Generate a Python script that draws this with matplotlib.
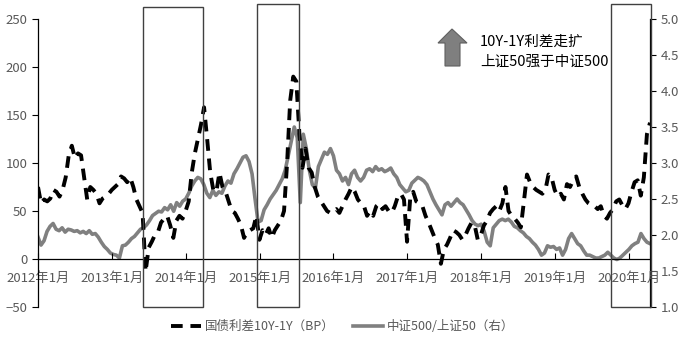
import matplotlib
matplotlib.use("Agg")
import matplotlib.pyplot as plt
import matplotlib.dates as mdates
from matplotlib.patches import Rectangle, Polygon
import pandas as pd

plt.rcParams['font.family'] = ['Noto Sans CJK SC', 'DejaVu Sans']

# 国债利差10Y-1Y (BP), roughly semi-monthly, 2012-01 .. 2020-04
spread_bp = [
    75, 58, 62, 60, 63, 72, 70, 65, 72, 85, 108, 118, 105, 110, 108, 85, 62, 75, 72, 68, 58, 63, 65, 68,
    72, 75, 78, 86, 84, 80, 85, 75, 62, 55, 48, -13, 12, 18, 25, 28, 38, 42, 45, 35, 22, 40, 45, 42,
    50, 60, 90, 110, 125, 140, 158, 125, 90, 72, 70, 90, 75, 70, 60, 50, 48, 42, 35, 22, 28, 30, 32, 45,
    20, 30, 25, 32, 22, 30, 35, 40, 50, 100, 165, 190, 185, 130, 95, 115, 95, 90, 75, 65, 60, 55, 50, 48,
    50, 52, 48, 55, 62, 68, 75, 70, 62, 58, 55, 45, 50, 45, 55, 58, 52, 55, 50, 48, 55, 65, 68, 62,
    18, 62, 70, 60, 58, 55, 45, 38, 30, 22, 15, -5, 10, 15, 22, 30, 28, 25, 20, 25, 32, 38, 35, 20,
    25, 35, 40, 48, 52, 55, 50, 58, 75, 50, 45, 42, 38, 33, 60, 88, 80, 75, 72, 70, 68, 72, 88, 85,
    72, 65, 68, 62, 78, 75, 82, 86, 75, 68, 62, 58, 56, 55, 52, 55, 45, 42, 48, 52, 60, 62, 56, 52,
    58, 70, 80, 82, 66, 85, 130, 142,
]

# 中证500/上证50 (右轴)
ratio = [
    1.97, 1.86, 1.92, 2.05, 2.12, 2.16, 2.08, 2.06, 2.10, 2.04, 2.08, 2.07, 2.05, 2.06, 2.03, 2.05,
    2.02, 2.06, 2.01, 2.02, 1.97, 1.90, 1.84, 1.80, 1.75, 1.73, 1.72, 1.68, 1.85, 1.86, 1.90, 1.95,
    1.98, 2.03, 2.08, 2.10, 2.14, 2.20, 2.27, 2.30, 2.33, 2.32, 2.38, 2.35, 2.42, 2.33, 2.45, 2.40,
    2.47, 2.50, 2.58, 2.68, 2.75, 2.80, 2.78, 2.70, 2.58, 2.52, 2.62, 2.55, 2.60, 2.58, 2.68, 2.75,
    2.72, 2.85, 2.92, 3.00, 3.08, 3.10, 3.02, 2.85, 2.50, 2.18, 2.20, 2.35, 2.42, 2.50, 2.56, 2.62,
    2.70, 2.78, 2.90, 3.10, 3.30, 3.50, 3.35, 2.45, 3.40, 3.20, 2.90, 2.70, 2.65, 2.95, 3.05, 3.15,
    3.12, 3.20, 3.10, 2.90, 2.85, 2.75, 2.80, 2.70, 2.85, 2.90, 2.80, 2.75, 2.80, 2.90, 2.92, 2.88,
    2.95, 2.90, 2.92, 2.88, 2.90, 2.93, 2.85, 2.80, 2.70, 2.65, 2.60, 2.62, 2.72, 2.76, 2.80, 2.78,
    2.75, 2.70, 2.60, 2.50, 2.42, 2.35, 2.28, 2.42, 2.45, 2.40, 2.45, 2.50, 2.45, 2.42, 2.35, 2.28,
    2.20, 2.15, 2.13, 2.15, 2.05, 1.90, 1.85, 2.10, 2.15, 2.20, 2.22, 2.20, 2.22, 2.18, 2.12, 2.10,
    2.06, 2.03, 1.98, 1.95, 1.90, 1.86, 1.80, 1.72, 1.75, 1.85, 1.83, 1.84, 1.80, 1.82, 1.72, 1.80,
    1.95, 2.02, 1.95, 1.88, 1.85, 1.78, 1.72, 1.72, 1.70, 1.68, 1.68, 1.70, 1.72, 1.76, 1.72, 1.68,
    1.66, 1.68, 1.72, 1.76, 1.80, 1.85, 1.88, 1.90, 2.02, 1.95, 1.90, 1.88,
]

start, end = "2012-01-01", "2020-04-15"
d_spread = pd.date_range(start, end, periods=len(spread_bp))
d_ratio = pd.date_range(start, end, periods=len(ratio))

# highlighted windows (start, end)
windows = [("2013-06-03", "2014-03-28"), ("2014-12-20", "2015-07-15"), ("2019-10-03", "2020-04-22")]
years = list(range(2012, 2021))

W, H = 685, 341
fig = plt.figure(figsize=(W / 100, H / 100), dpi=100)
ax = fig.add_axes([38 / W, 1 - 307 / H, (650 - 38) / W, (307 - 19) / H])
ax2 = ax.twinx()

tc = "#595959"
l1, = ax.plot(d_spread, spread_bp, color="black", lw=2.8, dashes=(3, 2), zorder=3)
l2, = ax2.plot(d_ratio, ratio, color="#808080", lw=2.6, zorder=2)
ax.set_zorder(ax2.get_zorder() + 1)
ax.patch.set_visible(False)

ax.set_ylim(-50, 250)
ax.set_yticks(range(-50, 251, 50))
ax2.set_ylim(1.0, 5.0)
ax2.set_yticks([1.0 + 0.5 * i for i in range(9)])
ax2.set_yticklabels([f"{1.0 + 0.5 * i:.1f}" for i in range(9)])
ax.set_xlim(pd.Timestamp(start), pd.Timestamp(end))
ax.set_xticks([pd.Timestamp(f"{y}-01-01") for y in years])
ax.set_xticklabels([f"{y}年1月" for y in years])

ax.spines["bottom"].set_position(("data", 0))
ax.spines["top"].set_visible(False)
ax.spines["right"].set_visible(False)
ax2.spines["top"].set_visible(False)
ax2.spines["bottom"].set_visible(False)
ax2.spines["left"].set_visible(False)
for a in (ax, ax2):
    for s in a.spines.values():
        s.set_color("black")
        s.set_linewidth(0.9)
ax.tick_params(axis="x", direction="in", length=4, pad=9, labelsize=9.5, labelcolor=tc)
ax.tick_params(axis="y", direction="out", length=4, labelsize=9.5, labelcolor=tc)
ax2.tick_params(axis="y", direction="out", length=4, labelsize=9.5, labelcolor=tc)

tops = [262.5, 265.6, 265.6]
for (a, b), top in zip(windows, tops):
    x0 = mdates.date2num(pd.Timestamp(a))
    x1 = mdates.date2num(pd.Timestamp(b))
    ax.add_patch(Rectangle((x0, -50), x1 - x0, top + 50, fill=False, ec="#404040",
                           lw=1.0, clip_on=False, zorder=5))

# up arrow and note
def fp(x, y):
    return (x / W, 1 - y / H)

arrow = [fp(452, 29), fp(467, 43), fp(460, 43), fp(460, 66), fp(445, 66), fp(445, 43), fp(438, 43)]
fig.add_artist(Polygon(arrow, closed=True, transform=fig.transFigure,
                       fc="#7f7f7f", ec="#5f5f5f", lw=0.8))
fig.text(480 / W, 1 - 42 / H, "10Y-1Y利差走扩", fontsize=10.5, va="center", color="black")
fig.text(480 / W, 1 - 62 / H, "上证50强于中证500", fontsize=10.5, va="center", color="black")

fig.legend([l1, l2], ["国债利差10Y-1Y（BP）", "中证500/上证50（右）"], loc="lower center",
           bbox_to_anchor=(0.5, -0.01), ncol=2, frameon=False, fontsize=9,
           handlelength=2.4, handletextpad=0.3, columnspacing=1.5, labelcolor=tc)

fig.savefig("out.png", dpi=100)
